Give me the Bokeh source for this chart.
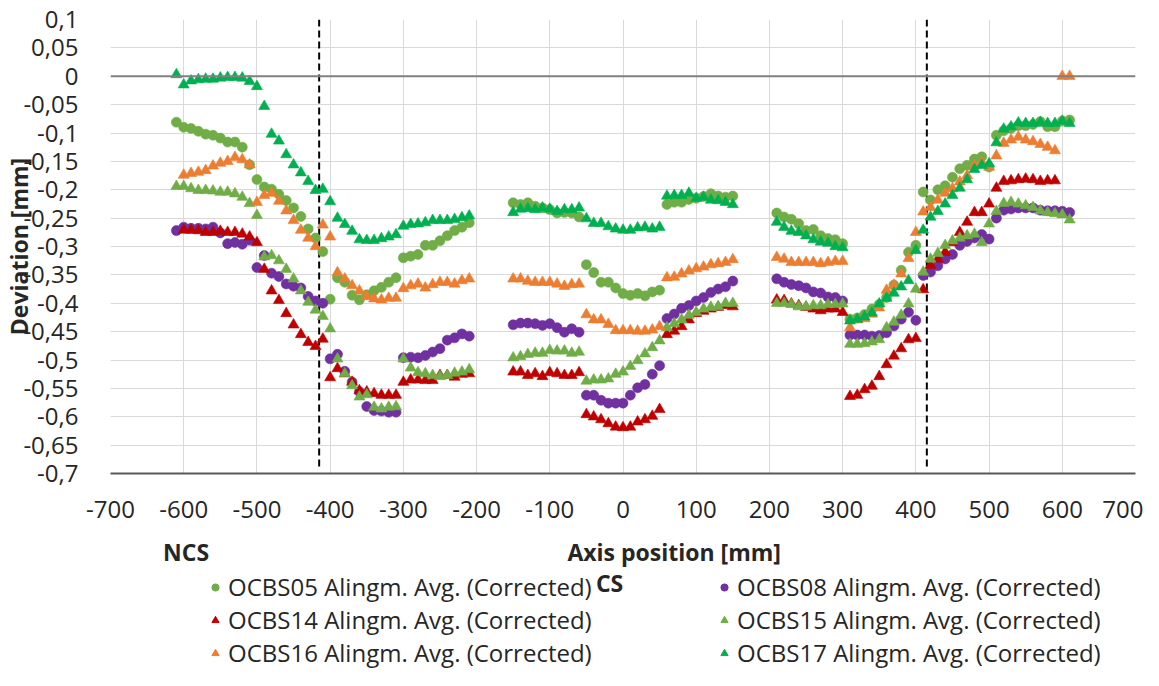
import numpy as np
from bokeh.plotting import figure
from bokeh.layouts import column
from bokeh.models import (Range1d, FixedTicker, CustomJSTickFormatter, Span, Label,
                          Legend, LegendItem, ColumnDataSource)
from bokeh.embed import file_html
from bokeh.resources import INLINE

# ---------------- data ----------------
x_left = list(range(-610, -200, 10))     # -610 .. -210
x_mid = list(range(-150, 160, 10))       # -150 .. 150
x_right = list(range(210, 620, 10))      # 210 .. 610
axis_pos = x_left + x_mid + x_right

N = None
ocbs05 = [
    -0.081, -0.090, -0.092, -0.097, -0.102, -0.104, -0.109, -0.116, -0.116, -0.125, -0.156,
    -0.182, -0.195, -0.199, -0.208, -0.219, -0.232, -0.247, -0.269, -0.285, -0.309,
    -0.393, -0.355, -0.363, -0.386, -0.394, -0.385, -0.378, -0.372, -0.363, -0.355,
    -0.320, -0.317, -0.314, -0.298, -0.298, -0.290, -0.281, -0.272, -0.266, -0.258,
    -0.223, -0.226, -0.223, -0.229, -0.232, -0.235, -0.241, -0.240, -0.241, -0.248,
    -0.332, -0.346, -0.363, -0.363, -0.373, -0.383, -0.386, -0.383, -0.387, -0.380, -0.377,
    -0.226, -0.222, -0.222, -0.217, -0.215, -0.212, -0.207, -0.211, -0.213, -0.211,
    -0.241, -0.248, -0.252, -0.260, -0.272, -0.270, -0.281, -0.286, -0.288, -0.295,
    -0.428, -0.426, -0.420, -0.410, -0.402, -0.390, -0.368, -0.342, -0.310, -0.298,
    -0.204, -0.218, -0.200, -0.193, -0.178, -0.163, -0.157, -0.146, -0.142, -0.160,
    -0.104, -0.096, -0.092, -0.087, -0.087, -0.085, -0.080, -0.089, -0.089, -0.079, -0.077,
]
ocbs08 = [
    -0.272, -0.266, -0.268, -0.268, -0.269, -0.266, -0.276, -0.295, -0.293, -0.296, -0.289,
    -0.337, -0.316, -0.347, -0.353, -0.366, -0.370, -0.373, -0.388, -0.396, -0.400,
    -0.498, -0.490, -0.520, -0.539, -0.556, -0.582, -0.589, -0.590, -0.592, -0.592,
    -0.496, -0.495, -0.496, -0.492, -0.486, -0.480, -0.465, -0.461, -0.454, -0.458,
    -0.438, -0.435, -0.435, -0.436, -0.439, -0.436, -0.443, -0.451, -0.445, -0.451,
    -0.562, -0.562, -0.571, -0.576, -0.576, -0.576, -0.562, -0.549, -0.543, -0.525, -0.510,
    -0.427, -0.419, -0.409, -0.404, -0.396, -0.390, -0.381, -0.375, -0.371, -0.361,
    -0.357, -0.363, -0.367, -0.369, -0.373, -0.380, -0.382, -0.389, -0.390, -0.396,
    -0.456, -0.456, -0.456, -0.458, -0.457, -0.452, -0.440, -0.428, -0.416, -0.430,
    -0.351, -0.345, -0.334, -0.322, -0.314, -0.298, -0.291, -0.285, -0.279, -0.287,
    -0.250, -0.236, -0.234, -0.232, -0.232, -0.232, -0.236, -0.237, -0.237, -0.238, -0.240,
]
ocbs14 = [
    N, -0.271, -0.271, -0.272, -0.275, -0.275, -0.273, -0.275, -0.275, -0.278, -0.283,
    -0.293, -0.340, -0.378, -0.395, -0.418, -0.438, -0.455, -0.469, -0.476, -0.463,
    -0.531, -0.515, -0.524, -0.539, -0.554, -0.556, -0.559, -0.562, -0.562, -0.562,
    -0.539, -0.535, -0.535, -0.536, -0.536, -0.527, -0.527, -0.530, -0.525, -0.524,
    -0.521, -0.521, -0.527, -0.524, -0.529, -0.522, -0.524, -0.527, -0.527, -0.522,
    -0.596, -0.600, -0.605, -0.612, -0.618, -0.619, -0.618, -0.609, -0.605, -0.599, -0.587,
    -0.455, -0.449, -0.441, -0.429, -0.418, -0.414, -0.410, -0.407, -0.404, -0.406,
    -0.394, -0.395, -0.401, -0.404, -0.407, -0.410, -0.413, -0.410, -0.410, -0.416,
    -0.564, -0.562, -0.552, -0.546, -0.529, -0.508, -0.493, -0.480, -0.464, -0.462,
    -0.376, -0.333, -0.322, -0.310, -0.293, -0.275, -0.257, -0.240, -0.240, -0.225,
    -0.197, -0.185, -0.184, -0.182, -0.181, -0.182, -0.185, -0.184, -0.184, N, N,
]
ocbs15 = [
    -0.194, -0.194, -0.198, -0.201, -0.201, -0.202, -0.204, -0.204, -0.207, -0.213, -0.224,
    -0.245, -0.318, -0.316, -0.325, -0.340, -0.357, -0.378, -0.398, -0.412, -0.423,
    -0.445, -0.498, -0.524, -0.545, -0.565, -0.561, -0.583, -0.586, -0.583, -0.582,
    -0.498, -0.514, -0.522, -0.524, -0.527, -0.529, -0.527, -0.523, -0.521, -0.517,
    -0.496, -0.494, -0.490, -0.488, -0.488, -0.483, -0.484, -0.484, -0.488, -0.486,
    -0.537, -0.535, -0.535, -0.533, -0.525, -0.521, -0.511, -0.501, -0.489, -0.478, -0.466,
    -0.443, -0.436, -0.429, -0.421, -0.416, -0.410, -0.407, -0.406, -0.400, -0.400,
    -0.400, -0.400, -0.402, -0.406, -0.406, -0.404, -0.404, -0.402, -0.402, -0.401,
    -0.472, -0.472, -0.471, -0.468, -0.464, -0.443, -0.433, -0.421, -0.401, -0.375,
    -0.345, -0.322, -0.312, -0.298, -0.290, -0.285, -0.281, -0.278, -0.293, -0.260,
    -0.238, -0.224, -0.222, -0.225, -0.228, -0.231, -0.237, -0.240, -0.242, -0.244, -0.253,
]
ocbs16 = [
    N, -0.174, -0.171, -0.169, -0.166, -0.158, -0.153, -0.150, -0.143, -0.147, -0.156,
    -0.222, -0.210, -0.206, -0.220, -0.237, -0.254, -0.271, -0.285, -0.300, -0.262,
    -0.283, -0.346, -0.357, -0.369, -0.378, -0.388, -0.392, -0.394, -0.391, -0.391,
    -0.374, -0.369, -0.366, -0.373, -0.367, -0.363, -0.363, -0.366, -0.360, -0.357,
    -0.357, -0.357, -0.361, -0.363, -0.363, -0.363, -0.366, -0.370, -0.367, -0.366,
    -0.420, -0.429, -0.429, -0.437, -0.448, -0.448, -0.448, -0.449, -0.449, -0.447, -0.441,
    -0.355, -0.354, -0.348, -0.343, -0.339, -0.336, -0.332, -0.330, -0.328, -0.323,
    -0.319, -0.322, -0.328, -0.328, -0.328, -0.328, -0.330, -0.328, -0.326, -0.326,
    -0.443, -0.429, -0.427, -0.419, -0.408, -0.377, -0.368, -0.348, -0.321, -0.275,
    -0.239, -0.231, -0.218, -0.206, -0.198, -0.186, -0.175, -0.158, -0.152, -0.160,
    -0.140, -0.118, -0.112, -0.107, -0.112, -0.115, -0.120, -0.125, -0.131, 0.0, 0.0,
]
ocbs17 = [
    0.003, -0.015, -0.008, -0.006, -0.005, -0.005, -0.003, -0.002, -0.002, -0.003, -0.009,
    -0.018, -0.053, -0.102, -0.114, -0.138, -0.156, -0.170, -0.185, -0.201, -0.199,
    -0.221, -0.250, -0.261, -0.273, -0.288, -0.289, -0.289, -0.286, -0.283, -0.279,
    -0.264, -0.261, -0.260, -0.258, -0.254, -0.254, -0.254, -0.252, -0.249, -0.246,
    -0.240, -0.234, -0.233, -0.235, -0.232, -0.234, -0.238, -0.235, -0.235, -0.232,
    -0.251, -0.259, -0.259, -0.265, -0.269, -0.271, -0.271, -0.267, -0.266, -0.269, -0.266,
    -0.211, -0.210, -0.210, -0.206, -0.215, -0.213, -0.218, -0.219, -0.222, -0.226,
    -0.257, -0.266, -0.273, -0.275, -0.281, -0.288, -0.292, -0.294, -0.300, -0.302,
    -0.431, -0.428, -0.424, -0.417, -0.401, -0.391, -0.382, -0.371, -0.360, -0.307,
    -0.271, -0.248, -0.238, -0.225, -0.210, -0.197, -0.182, -0.164, -0.157, -0.154,
    -0.117, -0.093, -0.089, -0.082, -0.083, -0.083, -0.081, -0.083, -0.083, -0.079, -0.083,
]

series_names = [
    "OCBS05 Alingm. Avg. (Corrected)", "OCBS08 Alingm. Avg. (Corrected)",
    "OCBS14 Alingm. Avg. (Corrected)", "OCBS15 Alingm. Avg. (Corrected)",
    "OCBS16 Alingm. Avg. (Corrected)", "OCBS17 Alingm. Avg. (Corrected)",
]
series_values = [ocbs05, ocbs08, ocbs14, ocbs15, ocbs16, ocbs17]
series_colors = ["#70AD47", "#7030A0", "#C00000", "#70AD47", "#ED7D31", "#00B050"]
series_markers = ["circle", "circle", "triangle", "triangle", "triangle", "triangle"]

x_ticks = [-700, -600, -500, -400, -300, -200, -100, 0, 100, 200, 300, 400, 500, 600, 700]
y_ticks = [0.1, 0.05, 0.0, -0.05, -0.1, -0.15, -0.2, -0.25, -0.3, -0.35, -0.4, -0.45,
           -0.5, -0.55, -0.6, -0.65, -0.7]
boundary_x = [-415, 415]
boundary_top = [0.1, 0.1]
boundary_bottom = [-0.69, -0.69]

# ---------------- main chart ----------------
FONT = "Open Sans"
TXT = "#262626"
W = 1143
H_TOP, H_BOTTOM = 530, 140
LEFT, RIGHT = 104, 8
p = figure(width=W, height=H_TOP, output_backend="svg", toolbar_location=None,
           x_range=Range1d(-700, 700), y_range=Range1d(-0.7, 0.1),
           min_border_left=LEFT, min_border_right=RIGHT, min_border_top=19,
           min_border_bottom=H_TOP - 473)
p.outline_line_color = None

for ax in (p.xaxis[0], p.yaxis[0]):
    ax.major_tick_line_color = None
    ax.minor_tick_line_color = None
    ax.major_label_text_font = FONT
    ax.major_label_text_font_size = "24px"
    ax.major_label_text_color = TXT

p.xaxis.ticker = FixedTicker(ticks=x_ticks)
p.xaxis.formatter = CustomJSTickFormatter(code="return tick.toFixed(0);")
p.yaxis.ticker = FixedTicker(ticks=y_ticks)
p.yaxis.formatter = CustomJSTickFormatter(
    code="var s = Number(tick.toFixed(2)).toString(); return s.replace('.', ',');")
p.yaxis.axis_line_color = None
p.yaxis.major_label_standoff = 26
p.yaxis.axis_label = "Deviation [mm]"
p.yaxis.axis_label_text_font = FONT
p.yaxis.axis_label_text_font_size = "23px"
p.yaxis.axis_label_text_font_style = "bold"
p.yaxis.axis_label_text_color = TXT
p.yaxis.axis_label_standoff = -15
p.xaxis.axis_line_color = "#595959"
p.xaxis.axis_line_width = 2
p.xaxis.major_label_standoff = 21

p.xgrid.ticker = FixedTicker(ticks=x_ticks)
p.ygrid.ticker = FixedTicker(ticks=y_ticks)
for g in (p.xgrid[0], p.ygrid[0]):
    g.grid_line_color = "#D9D9D9"
    g.grid_line_width = 1

p.add_layout(Span(location=0, dimension="width", line_color="#808080", line_width=2))

p.segment(x0=boundary_x, y0=boundary_top, x1=boundary_x, y1=boundary_bottom,
          line_color="black", line_width=2, line_dash="7 4")

for name, vals, col, mk in zip(series_names, series_values, series_colors, series_markers):
    src = ColumnDataSource(dict(x=axis_pos, y=np.array(vals, dtype=float)))
    p.scatter("x", "y", source=src, marker=mk, size=10 if mk == "circle" else 11,
              fill_color=col, line_color=col, line_alpha=0.6)

# ---------------- bottom strip: axis titles and legend ----------------
# The strip's frame is aligned with the chart frame (x 104..1135 in picture pixels);
# its ranges are picture pixel positions (y measured from the top of the picture).
p2 = figure(width=W, height=H_BOTTOM, output_backend="svg", toolbar_location=None,
            x_range=Range1d(LEFT, W - RIGHT), y_range=Range1d(H_TOP + H_BOTTOM, H_TOP),
            x_axis_type=None, y_axis_type=None,
            min_border_left=LEFT, min_border_right=RIGHT, min_border_top=0,
            min_border_bottom=0)
p2.outline_line_color = None
p2.grid.visible = False

title_kw = dict(text_font=FONT, text_font_size="23px", text_font_style="bold",
                text_color=TXT, text_align="center", text_baseline="middle")
p2.add_layout(Label(x=180, y=551, text="NCS", **title_kw))
p2.add_layout(Label(x=671, y=551, text="Axis position [mm]", **title_kw))
p2.add_layout(Label(x=606, y=582, text="CS", **title_kw))

items = []
for name, col, mk in zip(series_names, series_colors, series_markers):
    # legend-only renderer: a single NaN point, so nothing is drawn in the strip
    r = p2.scatter(x=[np.nan], y=[np.nan], marker=mk, size=10,
                   fill_color=col, line_color=col)
    items.append(LegendItem(label=name, renderers=[r]))

legend = Legend(items=items, location=(96, 1), orientation="horizontal", ncols=2,
                padding=0, margin=0, spacing=0, glyph_width=18, glyph_height=30,
                label_height=30, label_width=487, label_standoff=4,
                label_text_font=FONT, label_text_font_size="24px",
                label_text_color=TXT,
                background_fill_alpha=0, border_line_color=None)
p2.add_layout(legend)

layout = column(p, p2, spacing=0)
open("out.html", "w").write(file_html(layout, INLINE))
